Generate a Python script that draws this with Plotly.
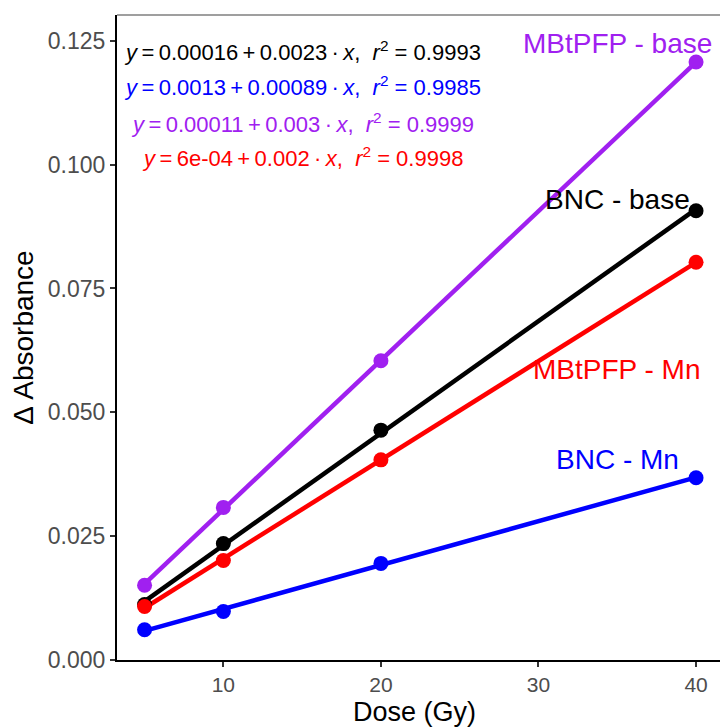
import numpy as np
import plotly.graph_objects as go

dose = [5, 10, 20, 40]
series_names = ["MBtPFP - base", "BNC - base", "MBtPFP - Mn", "BNC - Mn"]
mbtpfp_base = [0.0151, 0.0308, 0.0604, 0.1207]
bnc_base = [0.0112, 0.0235, 0.0464, 0.0907]
mbtpfp_mn = [0.0108, 0.0201, 0.0404, 0.0803]
bnc_mn = [0.0061, 0.0098, 0.0195, 0.0368]
colors = ["#A020F0", "#000000", "#FF0000", "#0000FF"]
values = [mbtpfp_base, bnc_base, mbtpfp_mn, bnc_mn]

label_x = [35, 35, 35, 35]
label_y = [0.1245, 0.0929, 0.0586, 0.0405]

sp = "\u2009"
eq_texts = [
    f"<i>y</i>{sp}={sp}0.00016{sp}+{sp}0.0023{sp}·{sp}<i>x</i>,  <i>r</i><sup>2</sup> = 0.9993",
    f"<i>y</i>{sp}={sp}0.0013{sp}+{sp}0.00089{sp}·{sp}<i>x</i>,  <i>r</i><sup>2</sup> = 0.9985",
    f"<i>y</i>{sp}={sp}0.00011{sp}+{sp}0.003{sp}·{sp}<i>x</i>,  <i>r</i><sup>2</sup> = 0.9999",
    f"<i>y</i>{sp}={sp}6e-04{sp}+{sp}0.002{sp}·{sp}<i>x</i>,  <i>r</i><sup>2</sup> = 0.9998",
]
eq_colors = ["#000000", "#0000FF", "#A020F0", "#FF0000"]
eq_y = [0.1229, 0.1158, 0.1083, 0.1015]

fig = go.Figure()
x_arr = np.array(dose, dtype=float)
for name, vals, col in zip(series_names, values, colors):
    slope, icpt = np.polyfit(x_arr, np.array(vals), 1)
    xl = np.array([min(dose), max(dose)], dtype=float)
    fig.add_trace(go.Scatter(x=xl, y=icpt + slope * xl, mode="lines",
                             line=dict(color=col, width=4.5), showlegend=False,
                             hoverinfo="skip"))
for name, vals, col in zip(series_names, values, colors):
    fig.add_trace(go.Scatter(x=dose, y=vals, mode="markers", name=name,
                             marker=dict(color=col, size=15), showlegend=False))

for name, col, lx, ly in zip(series_names, colors, label_x, label_y):
    fig.add_annotation(x=lx, y=ly, xref="x", yref="y", text=name, showarrow=False,
                       font=dict(family="Liberation Sans, Arial", size=28, color=col),
                       xanchor="center", yanchor="middle")

for t, c, y in zip(eq_texts, eq_colors, eq_y):
    fig.add_annotation(x=15, y=y, xref="x", yref="y", text=t, showarrow=False,
                       font=dict(family="Liberation Sans, Arial", size=22, color=c),
                       xanchor="center", yanchor="middle")

# x-axis title placed as annotation to keep it clear of tick labels
fig.add_annotation(x=0.493, y=-0.081, xref="paper", yref="paper", text="Dose (Gy)",
                   showarrow=False, font=dict(family="Liberation Sans, Arial", size=27, color="black"),
                   xanchor="center", yanchor="middle")

# top panel border
fig.add_shape(type="line", xref="paper", yref="paper", x0=0, x1=1, y0=1, y1=1,
              line=dict(color="#7f7f7f", width=1.5))

fig.update_layout(
    width=720, height=727,
    margin=dict(l=117, r=0, t=15, b=67),
    paper_bgcolor="white", plot_bgcolor="white",
    font=dict(family="Liberation Sans, Arial"),
)
fig.update_xaxes(
    range=[3.25, 41.52], tickvals=[10, 20, 30, 40], showgrid=False, zeroline=False,
    showline=True, linecolor="black", linewidth=2,
    ticks="outside", ticklen=5, tickcolor="#333333", tickwidth=1.5,
    tickfont=dict(size=21, color="#4D4D4D"),
)
fig.update_yaxes(
    range=[0, 0.1302], tickvals=[0, 0.025, 0.05, 0.075, 0.1, 0.125],
    ticktext=["0.000", "0.025", "0.050", "0.075", "0.100", "0.125"],
    showgrid=False, zeroline=False,
    showline=True, linecolor="black", linewidth=2,
    ticks="outside", ticklen=5, tickcolor="#333333", tickwidth=1.5,
    tickfont=dict(size=23, color="#4D4D4D"),
    title=dict(text="Δ Absorbance", font=dict(size=28, color="black"), standoff=6),
)

fig.write_html("out.html")
